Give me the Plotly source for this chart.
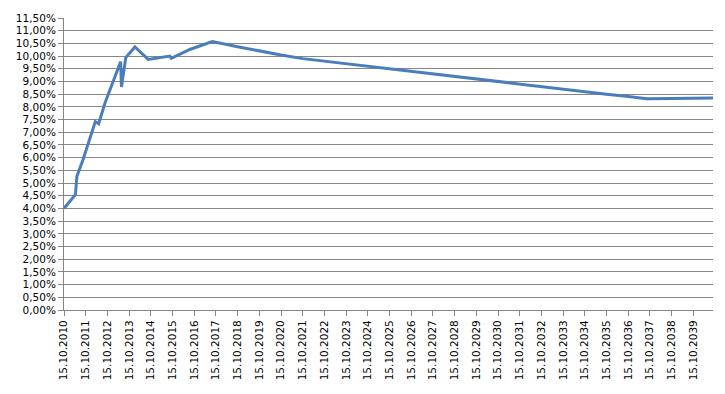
import plotly.graph_objects as go

dates = [
    "2010-10-15", "2011-04-25", "2011-05-20", "2011-09-01", "2012-03-25",
    "2012-05-20", "2012-09-01", "2013-05-25", "2013-06-08", "2013-08-20",
    "2014-01-20", "2014-09-01", "2015-09-01", "2015-09-25", "2016-08-01",
    "2017-08-15", "2018-10-15", "2019-10-15", "2020-10-15", "2021-10-15",
    "2022-10-15", "2023-10-15", "2024-10-15", "2025-10-15", "2026-10-15",
    "2027-10-15", "2028-10-15", "2029-10-15", "2030-10-15", "2031-10-15",
    "2032-10-15", "2033-10-15", "2034-10-15", "2035-10-15", "2036-10-15",
    "2037-08-20", "2038-10-15", "2039-10-15", "2040-09-10",
]
rates = [
    4.00, 4.54, 5.26, 5.93, 7.42,
    7.33, 8.13, 9.78, 8.78, 9.94,
    10.36, 9.87, 10.00, 9.91, 10.26,
    10.57, 10.37, 10.20, 10.04, 9.90,
    9.80, 9.70, 9.59, 9.49, 9.40,
    9.31, 9.18, 9.08, 8.98, 8.88,
    8.79, 8.69, 8.60, 8.50, 8.41,
    8.32, 8.33, 8.34, 8.35,
]

years = list(range(2010, 2040))
x_tickvals = [f"{y}-10-15" for y in years]
x_ticktext = [f"15.10.{y}" for y in years]

y_tickvals = [i * 0.5 for i in range(24)]
y_ticktext = [f"{v:.2f}".replace(".", ",") + "%" for v in y_tickvals]

fig = go.Figure()
fig.add_trace(go.Scatter(
    x=dates, y=rates, mode="lines",
    line=dict(color="#4A7EBB", width=3),
    hoverinfo="skip",
))

fig.update_layout(
    width=725, height=394,
    margin=dict(l=64, r=12, t=13, b=84),
    paper_bgcolor="white", plot_bgcolor="white",
    showlegend=False,
    font=dict(family="DejaVu Sans", size=10.5, color="#000000"),
)
fig.update_xaxes(
    type="date",
    range=["2010-10-15", "2040-09-10"],
    tickmode="array", tickvals=x_tickvals, ticktext=x_ticktext,
    tickangle=-90,
    showgrid=False, zeroline=False,
    showline=True, linecolor="#868686", linewidth=1,
    ticks="outside", ticklen=5, tickcolor="#868686",
    tickfont=dict(family="DejaVu Sans", size=10.5, color="#000000"),
)
fig.update_yaxes(
    range=[0, 11.5],
    tickmode="array", tickvals=y_tickvals, ticktext=y_ticktext,
    showgrid=True, gridcolor="#868686", gridwidth=1,
    zeroline=False,
    showline=True, linecolor="#868686", linewidth=1,
    ticks="outside", ticklen=5, tickcolor="#868686",
    tickfont=dict(family="DejaVu Sans", size=10.5, color="#000000"),
)

fig.write_html("out.html")
